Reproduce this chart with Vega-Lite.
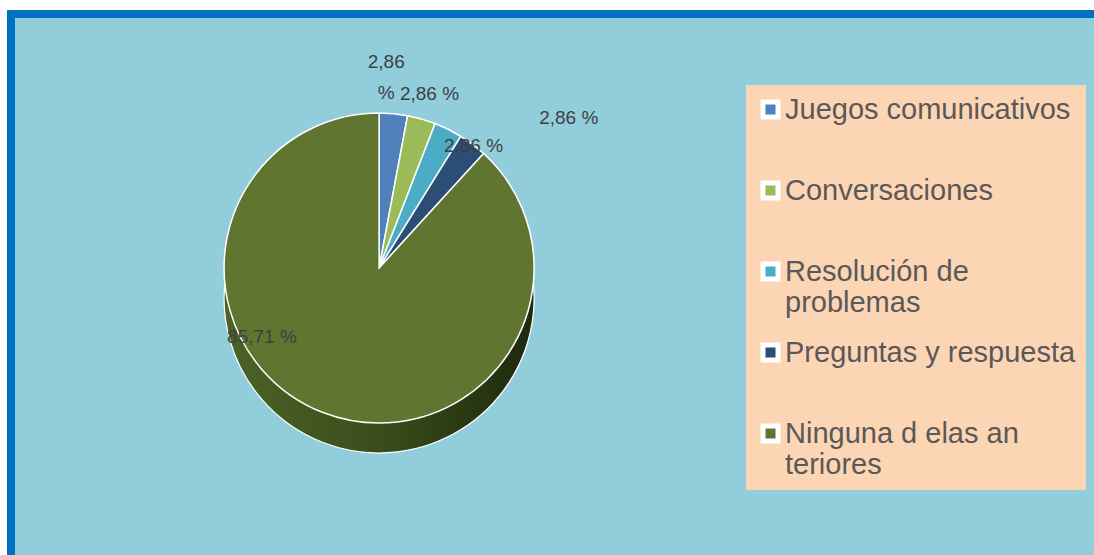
{
  "$schema": "https://vega.github.io/schema/vega-lite/v6.json",
  "width": 1094,
  "height": 555,
  "autosize": {"type": "fit", "contains": "padding"},
  "padding": {"left": 11, "top": 14, "right": -6, "bottom": -6},
  "background": "white",
  "view": {"fill": "#92CDDC", "stroke": "#0070C0", "strokeWidth": 8},
  "config": {
    "legend": {
      "fillColor": "#FCD5B5",
      "padding": 10,
      "labelFont": "Liberation Sans",
      "labelFontSize": 29,
      "labelColor": "#595959",
      "labelLimit": 500,
      "labelOffset": 0,
      "symbolType": "square",
      "symbolSize": 225,
      "symbolStrokeColor": "white",
      "symbolStrokeWidth": 5,
      "symbolOpacity": 1,
      "rowPadding": 17
    }
  },
  "data": {
    "values": [
      {"idx": 1, "category": "Juegos comunicativos", "pct": 2.86},
      {"idx": 2, "category": "Conversaciones", "pct": 2.86},
      {"idx": 3, "category": "Resolución de problemas", "pct": 2.86},
      {"idx": 4, "category": "Preguntas y respuesta", "pct": 2.86},
      {"idx": 5, "category": "Ninguna d elas an teriores", "pct": 85.71}
    ]
  },
  "transform": [
    {"calculate": "datum.idx == 1 ? [replace(format(datum.pct, '.2f'), '.', ','), '%'] : replace(format(datum.pct, '.2f'), '.', ',') + ' %'", "as": "label"}
  ],
  "encoding": {
    "theta": {"field": "pct", "type": "quantitative", "stack": true},
    "order": {"field": "idx", "type": "quantitative"}
  },
  "layer": [
    {
      "mark": {
        "type": "arc",
        "radius": 155,
        "x": {"expr": "width * 0.338"},
        "y": {"expr": "height * 0.4644"},
        "yOffset": 30,
        "stroke": "white",
        "strokeWidth": 1.2,
        "color": {
          "gradient": "linear",
          "x1": 0, "x2": 1, "y1": 0, "y2": 0,
          "stops": [
            {"offset": 0, "color": "#4B6327"},
            {"offset": 0.5, "color": "#3A4D1C"},
            {"offset": 1, "color": "#1E290C"}
          ]
        }
      },
      "encoding": {}
    },
    {
      "mark": {
        "type": "arc",
        "radius": 155,
        "x": {"expr": "width * 0.338"},
        "y": {"expr": "height * 0.4644"},
        "stroke": "white",
        "strokeWidth": 1.5
      },
      "encoding": {
        "color": {
          "field": "category",
          "type": "nominal",
          "scale": {
            "domain": ["Juegos comunicativos", "Conversaciones", "Resolución de problemas", "Preguntas y respuesta", "Ninguna d elas an teriores"],
            "range": ["#4F81BD", "#9BBB59", "#4BACC6", "#2C4D75", "#5F7530"]
          },
          "legend": {
            "title": null,
            "orient": "none",
            "legendX": 735,
            "legendY": 71,
            "labelExpr": "datum.label == 'Resolución de problemas' ? ['Resolución de', 'problemas'] : datum.label == 'Ninguna d elas an teriores' ? ['Ninguna d elas an', 'teriores'] : [datum.label, '']"
          }
        }
      }
    },
    {
      "mark": {
        "type": "text",
        "x": {"expr": "width * 0.338"},
        "y": {"expr": "height * 0.4644"},
        "radius": {"expr": "datum.idx == 1 ? 207 : datum.idx == 2 ? 184 : datum.idx == 3 ? 140 : datum.idx == 4 ? 215 : 100"},
        "dx": {"expr": "datum.idx == 1 ? -12 : datum.idx == 3 ? 32 : datum.idx == 4 ? 60 : datum.idx == 5 ? -81 : 0"},
        "dy": {"expr": "datum.idx == 2 ? 3 : datum.idx == 3 ? 3 : datum.idx == 4 ? 21 : datum.idx == 5 ? -24 : 0"},
        "font": "Liberation Sans",
        "fontSize": 19,
        "lineHeight": 31,
        "color": "#404040"
      },
      "encoding": {
        "text": {"field": "label", "type": "nominal"}
      }
    }
  ]
}
